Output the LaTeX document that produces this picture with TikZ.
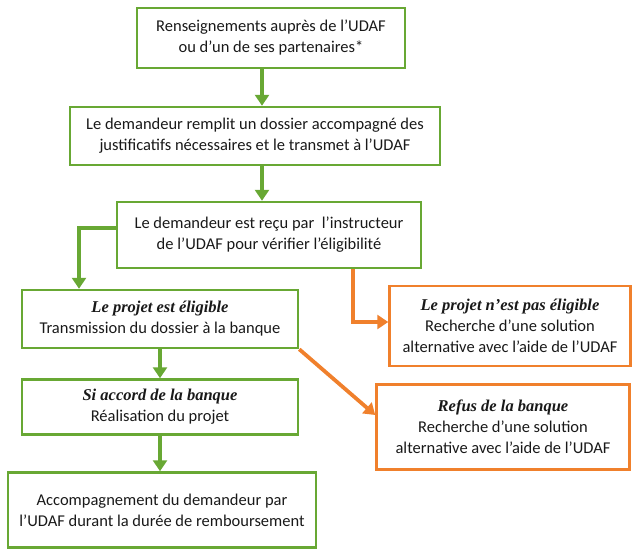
\documentclass[tikz,border=0pt]{standalone}
\usepackage{fontspec}
\setmainfont{Carlito}
\newfontfamily\headfont{Liberation Serif}
\usepackage{tikz}
\usepackage{xcolor}
\usetikzlibrary{arrows.meta}
\definecolor{udafgreen}{RGB}{104,168,52}
\definecolor{udaforange}{RGB}{240,128,44}
\newcommand\head[1]{{\headfont\bfseries\itshape #1}}

\begin{document}
\begin{tikzpicture}[x=1pt,y=-1pt]%
  \tikzstyle{boxg}=[rectangle,draw=udafgreen,line width=2.5pt,align=center,inner sep=2,text=black!90,font=\fontsize{16.5}{21}\selectfont]
  \tikzstyle{boxo}=[boxg,draw=udaforange]
  \tikzstyle{arrg}=[draw=udafgreen,line width=3.8pt,-{Triangle[width=14pt,length=11pt]}]
  \tikzstyle{arro}=[arrg,draw=udaforange]
  \useasboundingbox (0,0) rectangle (632,550);
  \node(1)[boxg,minimum width=268,minimum height=60] at (271,38)
    {Renseignements auprès de l’UDAF\\ou d’un de ses partenaires*};
  \node(2)[boxg,minimum width=370,minimum height=58] at (255,136)
    {Le demandeur remplit un dossier accompagné des\\justificatifs nécessaires et le transmet à l’UDAF};
  \node(3)[boxg,minimum width=304,minimum height=66] at (269,235)
    {Le demandeur est reçu par \ l’instructeur\\de l’UDAF pour vérifier l’éligibilité};
  \node(4)[boxg,minimum width=276,minimum height=58] at (160,319)
    {\head{Le projet est éligible}\\Transmission du dossier à la banque};
  \node(5)[boxo,minimum width=241,minimum height=80] at (510,326)
    {\head{Le projet n’est pas éligible}\\Recherche d’une solution\\alternative avec l’aide de l’UDAF};
  \node(6)[boxg,minimum width=276,minimum height=55] at (160,407)
    {\head{Si accord de la banque}\\Réalisation du projet};
  \node(7)[boxo,minimum width=253,minimum height=85] at (503,427)
    {\head{Refus de la banque}\\Recherche d’une solution\\alternative avec l’aide de l’UDAF};
  \node(8)[boxg,minimum width=308,minimum height=75] at (162,510)
    {Accompagnement du demandeur par\\l’UDAF durant la durée de remboursement};
  % connecteurs
  \draw[arrg] ([xshift=-9pt]1.south) -- ([xshift=7pt]2.north);
  \draw[arrg] ([xshift=7pt]2.south) -- ([xshift=-7pt]3.north);
  \draw[arrg] ([yshift=7pt]3.west) -| ([xshift=-81pt]4.north);
  \draw[arro] ([xshift=84pt]3.south) |- ([yshift=4pt]5.west);
  \draw[arrg] (4.south) -- (6.north);
  \draw[arro] (4.south east) -- ([yshift=12pt]7.west);
  \draw[arrg] (6.south) -- (6.south |- 8.north);
\end{tikzpicture}
\end{document}
